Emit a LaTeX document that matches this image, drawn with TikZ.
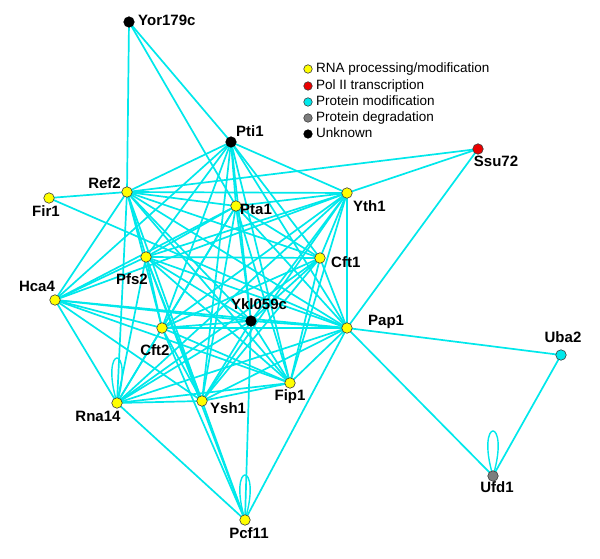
\documentclass[tikz,border=0pt]{standalone}
\usepackage{fontspec}
\setmainfont{Liberation Sans}
\usetikzlibrary{backgrounds}
\definecolor{edgec}{RGB}{0,232,235}
\definecolor{yel}{RGB}{255,255,0}
\definecolor{redn}{RGB}{235,0,0}
\definecolor{grayn}{RGB}{125,125,125}
\definecolor{outl}{RGB}{60,60,60}
\tikzset{
  gnode/.style={circle, draw=outl, line width=0.6pt, minimum size=10.5pt, inner sep=0pt},
  rnap/.style={gnode, fill=yel},
  polii/.style={gnode, fill=redn},
  pmod/.style={gnode, fill=edgec},
  pdeg/.style={gnode, fill=grayn},
  unk/.style={gnode, fill=black, draw=black},
  lab/.style={font=\fontsize{15}{15}\selectfont\bfseries, inner sep=0pt, text height=0.72em, text depth=0pt},
  legdot/.style={circle, draw=outl, line width=0.6pt, minimum size=8.5pt, inner sep=0pt},
  legtxt/.style={font=\fontsize{13.5}{13.5}\selectfont, inner sep=0pt, anchor=west, text height=0.72em, text depth=0pt},
  edge/.style={draw=edgec, line width=1.7pt},
}
\begin{document}
\begin{tikzpicture}[x=1pt, y=-1pt]
\useasboundingbox (0,0) rectangle (600,559);
% nodes
\node[unk]   (yor)  at (129,22)  {};
\node[unk]   (pti)  at (231,142) {};
\node[polii] (ssu)  at (478,149) {};
\node[rnap]  (ref)  at (127,192) {};
\node[rnap]  (fir)  at (49,198)  {};
\node[rnap]  (pta)  at (236,206) {};
\node[rnap]  (yth)  at (347,193) {};
\node[rnap]  (pfs)  at (146,257) {};
\node[rnap]  (cft1) at (320,258) {};
\node[rnap]  (hca)  at (55,300)  {};
\node[unk]   (ykl)  at (251,321) {};
\node[rnap]  (cft2) at (162,328) {};
\node[rnap]  (pap)  at (347,328) {};
\node[pmod]  (uba)  at (561,355) {};
\node[rnap]  (rna)  at (117,403) {};
\node[rnap]  (ysh)  at (202,401) {};
\node[rnap]  (fip)  at (290,383) {};
\node[pdeg]  (ufd)  at (493,476) {};
\node[rnap]  (pcf)  at (245,520) {};
% edges
\begin{pgfonlayer}{background}
\foreach \a/\b in {
  ref/pta, ref/pfs, ref/yth, ref/cft1, ref/cft2, ref/ysh, ref/fip, ref/pap, ref/ykl,
  pta/pfs, pta/yth, pta/cft1, pta/cft2, pta/ysh, pta/fip, pta/pap, pta/ykl,
  pfs/yth, pfs/cft1, pfs/cft2, pfs/ysh, pfs/fip, pfs/pap, pfs/ykl,
  yth/cft1, yth/cft2, yth/ysh, yth/fip, yth/pap, yth/ykl,
  cft1/cft2, cft1/ysh, cft1/fip, cft1/pap, cft1/ykl,
  cft2/ysh, cft2/fip, cft2/pap, cft2/ykl,
  ysh/fip, ysh/pap, ysh/ykl,
  fip/pap, fip/ykl,
  pap/ykl,
  pti/yor, pti/ref, pti/hca, pti/pfs, pti/cft2, pti/ysh, pti/pta, pti/cft1, pti/fip, pti/pap, pti/yth, pti/ykl,
  hca/ref, hca/pfs, hca/pta, hca/yth, hca/cft2, hca/ykl, hca/pap, hca/fip, hca/ysh, hca/rna,
  rna/ref, rna/cft2, rna/ysh, rna/fip, rna/pap, rna/ykl, rna/cft1, rna/yth, rna/pta, rna/pfs, rna/pcf,
  pcf/pfs, pcf/cft2, pcf/ysh, pcf/ykl, pcf/pap,
  yor/ref, yor/pta,
  fir/ref, fir/pap,
  ssu/ref, ssu/yth, ssu/pap,
  uba/pap, uba/ufd, ufd/pap}
  \draw[edge] (\a.center) -- (\b.center);
\foreach \n in {rna, pcf, ufd}
  \draw[edge, line width=1.4pt] (\n.center) .. controls +(-18,-60) and +(18,-60) .. (\n.center);
\end{pgfonlayer}
% labels
\node[lab, anchor=west] (yor-l)  at (138,22)  {Yor179c};
\node[lab, anchor=west] (pti-l)  at (236,133) {Pti1};
\node[lab, anchor=east] (ref-l)  at (121,185) {Ref2};
\node[lab]              (fir-l)  at (46,213)  {Fir1};
\node[lab, anchor=west] (pta-l)  at (240,211) {Pta1};
\node[lab]              (pfs-l)  at (132,281) {Pfs2};
\node[lab, anchor=west] (yth-l)  at (353,208) {Yth1};
\node[lab]              (ssu-l)  at (496,163) {Ssu72};
\node[lab, anchor=west] (cft1-l) at (331,264) {Cft1};
\node[lab]              (hca-l)  at (37,288)  {Hca4};
\node[lab]              (ykl-l)  at (259,306) {Ykl059c};
\node[lab]              (cft2-l) at (155,352) {Cft2};
\node[lab]              (rna-l)  at (98,418)  {Rna14};
\node[lab, anchor=west] (ysh-l)  at (210,410) {Ysh1};
\node[lab]              (fip-l)  at (290,397) {Fip1};
\node[lab]              (pcf-l)  at (249,535) {Pcf11};
\node[lab, anchor=west] (pap-l)  at (368,322) {Pap1};
\node[lab]              (uba-l)  at (563,339) {Uba2};
\node[lab]              (ufd-l)  at (497,489) {Ufd1};
% legend
\node[legdot, fill=yel]   (lg1) at (308,69)  {};
\node[legdot, fill=redn]  (lg2) at (308,86)  {};
\node[legdot, fill=edgec] (lg3) at (308,102) {};
\node[legdot, fill=grayn] (lg4) at (308,118) {};
\node[legdot, fill=black, draw=black] (lg5) at (308,134) {};
\node[legtxt] (lt1) at (316,69)  {RNA processing/modification};
\node[legtxt] (lt2) at (316,86)  {Pol II transcription};
\node[legtxt] (lt3) at (316,102) {Protein modification};
\node[legtxt] (lt4) at (316,118) {Protein degradation};
\node[legtxt] (lt5) at (316,134) {Unknown};
\end{tikzpicture}
\end{document}
